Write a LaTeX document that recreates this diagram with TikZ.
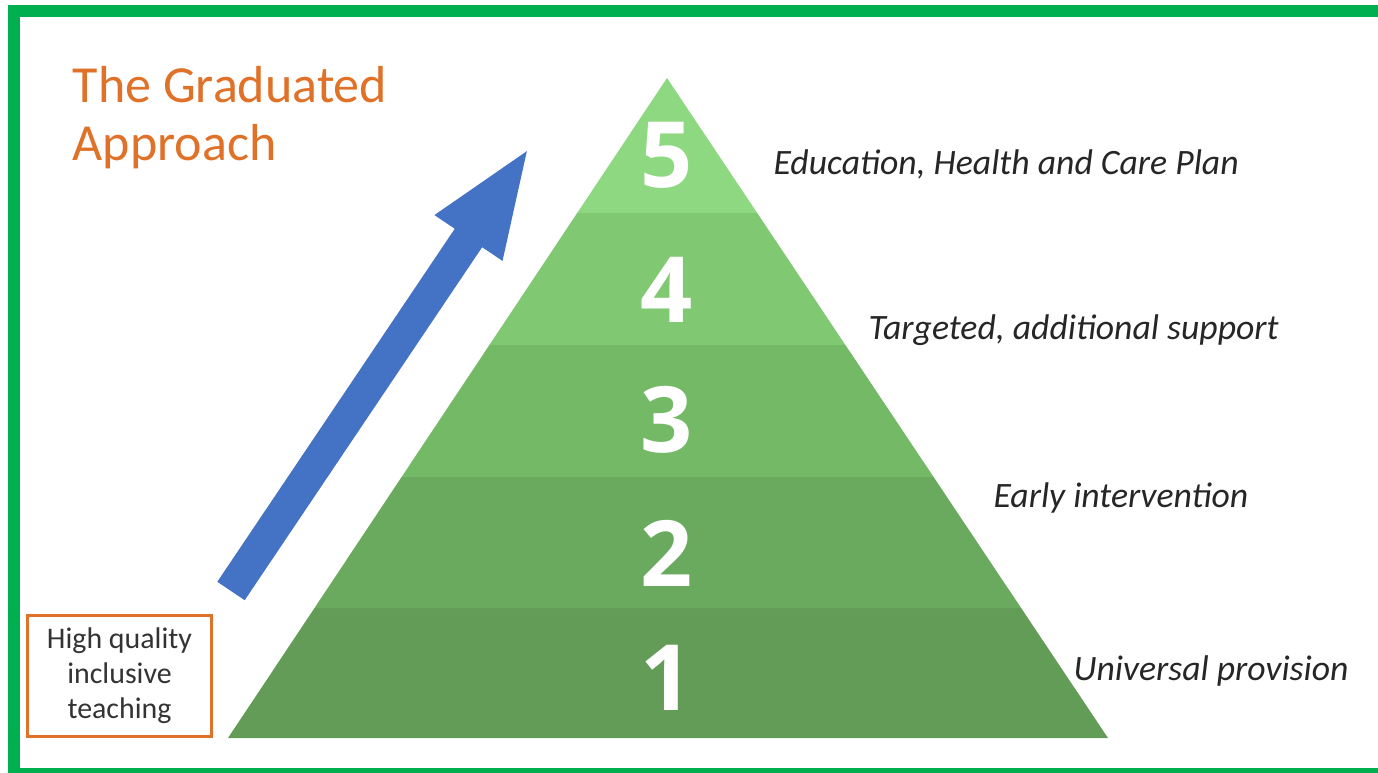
\documentclass[tikz,border=0pt]{standalone}
\usepackage{fontspec}
\setmainfont{Carlito}
\newfontfamily\digitfont{Open Sans}
\usetikzlibrary{arrows.meta}

\definecolor{frameGreen}{HTML}{00B050}
\definecolor{titleOrange}{HTML}{E07128}
\definecolor{arrowBlue}{HTML}{4472C4}
\definecolor{level1}{HTML}{629C56}
\definecolor{level2}{HTML}{6AAA5E}
\definecolor{level3}{HTML}{74B966}
\definecolor{level4}{HTML}{80C972}
\definecolor{level5}{HTML}{8ED881}

\begin{document}
\begin{tikzpicture}[x=0.01cm, y=-0.01cm]
\useasboundingbox (0,0) rectangle (1378,773);

\coordinate (P0_L) at (228, 738);
\coordinate (P0_R) at (1108, 738);
\coordinate (P1_L) at (314.5, 608);
\coordinate (P1_R) at (1021.1, 608);
\coordinate (P2_L) at (401.6, 477);
\coordinate (P2_R) at (933.6, 477);
\coordinate (P3_L) at (489.4, 345);
\coordinate (P3_R) at (845.4, 345);
\coordinate (P4_L) at (577.2, 213);
\coordinate (P4_R) at (757.2, 213);
\coordinate (Apex) at (667, 78);


\fill[level1] (P0_L) -- (P0_R) -- (P1_R) -- (P1_L) -- cycle;
\fill[level2] (P1_L) -- (P1_R) -- (P2_R) -- (P2_L) -- cycle;
\fill[level3] (P2_L) -- (P2_R) -- (P3_R) -- (P3_L) -- cycle;
\fill[level4] (P3_L) -- (P3_R) -- (P4_R) -- (P4_L) -- cycle;
\fill[level5] (P4_L) -- (P4_R) -- (Apex) -- cycle;


\tikzset{DigitStyle/.style = {
 text = white,
 inner sep = 0pt,
 font = \digitfont\bfseries\fontsize{26pt}{26pt}\selectfont} }

\node[DigitStyle] (N1) at (667, 678) {1};
\node[DigitStyle] (N2) at (667, 553) {2};
\node[DigitStyle] (N3) at (667, 420) {3};
\node[DigitStyle] (N4) at (667, 290) {4};
\node[DigitStyle] (N5) at (667, 155) {5};


\tikzset{LevelStyle/.style = {
 anchor = base west,
 inner sep = 0pt,
 text = black!85,
 font = \itshape\fontsize{10.15pt}{12pt}\selectfont} }

\node[LevelStyle] (L1) at (1073, 680) {Universal provision};
\node[LevelStyle] (L2) at (993, 508) {Early intervention};
\node[LevelStyle] (L3) at (868, 340) {Targeted, additional support};
\node[LevelStyle] (L5) at (773, 175) {Education, Health and Care Plan};


\node[anchor = north west, inner sep = 0pt, align = left, text = titleOrange,
 font = \fontsize{14.8pt}{16.5pt}\selectfont] (Title) at (72, 66)
 {The Graduated\\Approach};

\node[draw = titleOrange, line width = 0.03cm, minimum width = 1.83cm,
 minimum height = 1.2cm, align = center, text = black!80,
 font = \fontsize{8.5pt}{10pt}\selectfont] (Teaching) at (119.5, 676)
 {High quality\\inclusive\\teaching};


\tikzset{UpArrowStyle/.style = {
 arrowBlue, line width = 0.33cm,
 -{Triangle[width = 0.72cm, length = 1.12cm]}} }

\coordinate (A_tail) at (231, 591);
\coordinate (A_tip) at (531, 145);
\draw[UpArrowStyle] (A_tail) -- (A_tip);


\draw[frameGreen, line width = 0.12cm] (1390, 11) -- (14, 11) -- (14, 774) -- (1390, 774);

\end{tikzpicture}
\end{document}
